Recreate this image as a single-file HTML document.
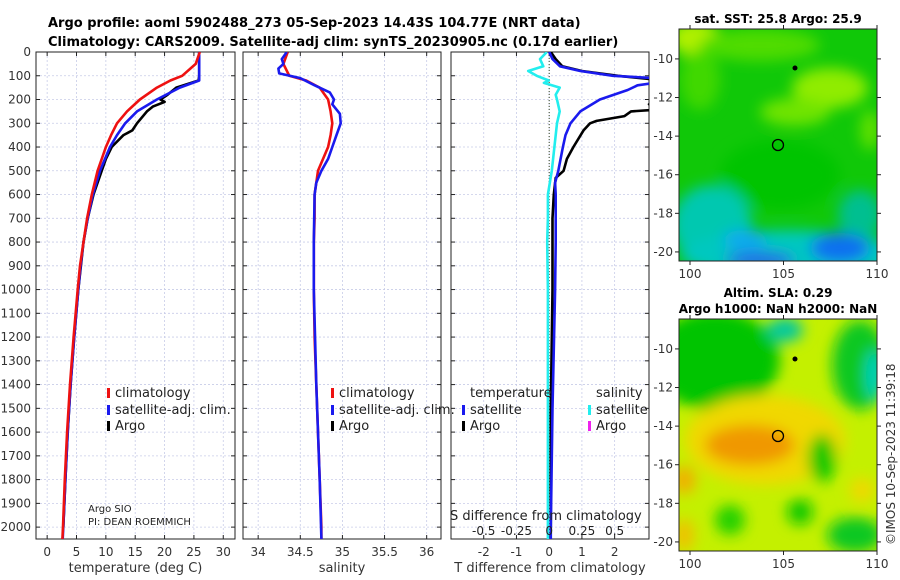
<!DOCTYPE html>
<html><head><meta charset="utf-8"><style>
body{margin:0;background:#fff;}
svg{display:block;font-family:"DejaVu Sans","Liberation Sans",sans-serif;}
</style></head><body>
<svg id="c" width="900" height="580" viewBox="0 0 900 580">
<defs>
<clipPath id="cp1"><rect x="36" y="52" width="199" height="487"/></clipPath>
<clipPath id="cp2"><rect x="243" y="52" width="198" height="487"/></clipPath>
<clipPath id="cp3"><rect x="451" y="52" width="198" height="487"/></clipPath>
<clipPath id="cm1"><rect x="679" y="29" width="198" height="232"/></clipPath>
<clipPath id="cm2"><rect x="679" y="319" width="198" height="232"/></clipPath>
<filter id="bl" x="-50%" y="-50%" width="200%" height="200%"><feGaussianBlur stdDeviation="7"/></filter>
</defs>
<text x="48" y="27" font-size="13" font-weight="bold">Argo profile: aoml 5902488_273 05-Sep-2023 14.43S 104.77E (NRT data)</text>
<text x="48" y="46" font-size="13" font-weight="bold">Climatology: CARS2009. Satellite-adj clim: synTS_20230905.nc (0.17d earlier)</text>
<g id="p1"></g>
<g id="p2"></g>
<g id="p3"></g>

<g>
<text x="778" y="23" font-size="12" font-weight="bold" text-anchor="middle">sat. SST: 25.8 Argo: 25.9</text>
<g clip-path="url(#cm1)">
<rect x="679" y="29" width="198" height="232" fill="#10c808"/>
<g filter="url(#bl)">
<ellipse cx="695" cy="38" rx="25" ry="18" fill="#b0f000"/>
<ellipse cx="760" cy="45" rx="60" ry="16" fill="#50dc00"/>
<ellipse cx="700" cy="80" rx="20" ry="30" fill="#40d800"/>
<ellipse cx="830" cy="88" rx="38" ry="20" fill="#90ec00"/>
<ellipse cx="795" cy="112" rx="35" ry="14" fill="#70e400"/>
<ellipse cx="870" cy="130" rx="10" ry="20" fill="#60e000"/>
<ellipse cx="780" cy="175" rx="60" ry="35" fill="#00c400"/>
<ellipse cx="712" cy="225" rx="40" ry="40" fill="#00c8b0"/>
<ellipse cx="790" cy="255" rx="110" ry="25" fill="#00c8c0"/>
<ellipse cx="860" cy="215" rx="22" ry="25" fill="#00bf90"/>
<ellipse cx="840" cy="248" rx="30" ry="15" fill="#1070f0"/>
<ellipse cx="760" cy="260" rx="35" ry="8" fill="#2060e8"/>
<ellipse cx="745" cy="240" rx="22" ry="10" fill="#10a8f0"/>
</g></g>
<rect x="679" y="29" width="198" height="232" fill="none" stroke="#222"/>
<circle cx="778" cy="145" r="5.5" fill="none" stroke="#000" stroke-width="1.3"/>
<circle cx="795" cy="68" r="2.5" fill="#000"/>
</g>

<g>
<text x="778" y="297" font-size="12" font-weight="bold" text-anchor="middle">Altim. SLA: 0.29</text>
<text x="778" y="313" font-size="12" font-weight="bold" text-anchor="middle">Argo h1000: NaN h2000: NaN</text>
<g clip-path="url(#cm2)">
<rect x="679" y="319" width="198" height="232" fill="#c4f000"/>
<g filter="url(#bl)">
<ellipse cx="715" cy="360" rx="65" ry="50" fill="#00c400"/>
<ellipse cx="860" cy="365" rx="28" ry="45" fill="#10c820"/>
<ellipse cx="874" cy="375" rx="8" ry="25" fill="#00d0c0"/>
<ellipse cx="785" cy="330" rx="18" ry="12" fill="#00c8a0"/>
<ellipse cx="765" cy="440" rx="80" ry="45" fill="#f0d800"/>
<ellipse cx="750" cy="445" rx="45" ry="20" fill="#f09800"/>
<ellipse cx="822" cy="458" rx="14" ry="24" fill="#10c800"/>
<ellipse cx="800" cy="512" rx="13" ry="13" fill="#10c800"/>
<ellipse cx="730" cy="520" rx="15" ry="15" fill="#20d000"/>
<ellipse cx="855" cy="535" rx="28" ry="18" fill="#10c820"/>
<ellipse cx="684" cy="480" rx="12" ry="14" fill="#f0b000"/>
<ellipse cx="684" cy="535" rx="10" ry="16" fill="#f0c000"/>
<ellipse cx="862" cy="490" rx="12" ry="12" fill="#f0d800"/>
</g></g>
<rect x="679" y="319" width="198" height="232" fill="none" stroke="#222"/>
<circle cx="778" cy="436" r="5.5" fill="none" stroke="#000" stroke-width="1.3"/>
<circle cx="795" cy="359" r="2.5" fill="#000"/>
<text transform="translate(895,545) rotate(-90)" font-size="12" fill="#333">©IMOS 10-Sep-2023 11:39:18</text>
</g>
<g id="maxes"></g>
</svg>
<script>
const depths=[0,50,100,120,150,200,250,300,350,400,500,600,700,800,900,1000,1200,1400,1600,1800,2000,2050];
const tempClim=[26,25.3,23,21,18.7,15.8,13.6,11.9,10.9,10,8.6,7.6,6.8,6.2,5.6,5.2,4.5,3.9,3.4,3.0,2.7,2.6];
const tempSat=[25.9,25.9,25.9,25.9,22.6,18.7,15.3,13.3,11.9,10.7,9,7.8,6.9,6.2,5.7,5.3,4.6,4.0,3.5,3.1,2.75,2.65];
const argoDepths=[0,50,100,120,150,180,200,210,230,250,300,330,350,400,450,500,600,700,800,1000,1200,1400,1600,1800,2000];
const tempArgo=[25.9,25.9,25.9,25.8,22,20.5,19.3,20,18,17,15.3,14.5,13,11,10,9.3,7.9,6.9,6.2,5.3,4.6,4.0,3.5,3.1,2.75];
const salClim=[34.35,34.3,34.37,34.57,34.73,34.83,34.86,34.88,34.86,34.83,34.71,34.67,34.67,34.66,34.66,34.66,34.67,34.69,34.71,34.73,34.75,34.75];
const salDepths=[0,30,50,70,90,110,140,170,200,220,260,300,350,400,450,500,550,600,800,1000,1400,1800,2050];
const salSat=[34.34,34.28,34.3,34.24,34.25,34.5,34.67,34.85,34.9,34.88,34.97,34.98,34.93,34.88,34.83,34.75,34.69,34.67,34.66,34.66,34.69,34.73,34.75];
const dsDepths=[0,30,60,80,100,120,130,150,180,200,250,300,400,500,600,700,800,1000,1500,2000,2050];
const salDiffSat=[-0.018,-0.07,-0.045,-0.16,-0.095,-0.003,-0.04,0.08,0.05,0.06,0.08,0.06,0.04,0.02,-0.01,-0.01,-0.015,-0.01,-0.01,-0.01,-0.01];
const dtDepths=[0,30,60,80,100,110,125,140,160,200,250,300,350,400,500,550,600,800,1000,1500,2000,2050];
const tDiffSat=[0,0.1,0.33,0.95,1.95,3.2,3.5,2.7,2.4,1.55,0.95,0.65,0.5,0.42,0.28,0.18,0.2,0.2,0.18,0.1,0.05,0.05];
const dtArgoDepths=[0,30,60,80,100,120,150,180,190,220,240,250,270,290,300,330,400,450,500,530,600,700,800,1000,1500,2000];
const tDiffArgo=[0.05,0.2,0.4,1.0,2.1,3.5,3.6,3.2,3.6,3.05,3.6,2.5,2.3,1.45,1.25,1.05,0.74,0.54,0.44,0.2,0.14,0.1,0.1,0.1,0.05,0.05];
const depthTicks=[0,100,200,300,400,500,600,700,800,900,1000,1100,1200,1300,1400,1500,1600,1700,1800,1900,2000];
const tTicks=[0,5,10,15,20,25,30];
const sTicks=[34,34.5,35,35.5,36];
const dTicks=[-2,-1,0,1,2];
const dsTicks=[-0.5,-0.25,0,0.25,0.5];
const latTicks=[-10,-12,-14,-16,-18,-20];
const lonTicks=[100,105,110];

const NS='http://www.w3.org/2000/svg';
const Y0=52,Y1=539;
function y(d){return Y0+(d/2050)*(Y1-Y0);}
function mk(tag,attrs,parent,txt){const e=document.createElementNS(NS,tag);for(const k in attrs)e.setAttribute(k,attrs[k]);if(txt!==undefined)e.textContent=txt;parent.appendChild(e);return e;}
function panel(g,x0,x1,xmin,xmax,ticks,clip,labelDepth,xlabel){
  const xs=v=>x0+(v-xmin)/(xmax-xmin)*(x1-x0);
  depthTicks.forEach(d=>{mk('line',{x1:x0,x2:x1,y1:y(d),y2:y(d),stroke:'#c8cce8','stroke-dasharray':'2,2','stroke-width':0.8},g);
    mk('line',{x1:x0,x2:x0+4,y1:y(d),y2:y(d),stroke:'#222'},g);mk('line',{x1:x1-4,x2:x1,y1:y(d),y2:y(d),stroke:'#222'},g);
    if(labelDepth){const t=mk('text',{x:x0-5,y:y(d)+4,'font-size':12,'text-anchor':'end',fill:'#333'},g,String(d));
      
      }});
  ticks.forEach(v=>{mk('line',{x1:xs(v),x2:xs(v),y1:Y0,y2:Y1,stroke:'#c8cce8','stroke-dasharray':'2,2','stroke-width':0.8},g);
    mk('line',{x1:xs(v),x2:xs(v),y1:Y1-4,y2:Y1,stroke:'#222'},g);mk('line',{x1:xs(v),x2:xs(v),y1:Y0,y2:Y0+4,stroke:'#222'},g);
    const t=mk('text',{x:xs(v),y:Y1+17,'font-size':12,'text-anchor':'middle',fill:'#333'},g,String(v));
    
    });
  mk('rect',{x:x0,y:Y0,width:x1-x0,height:Y1-Y0,fill:'none',stroke:'#222'},g);
  const xl=mk('text',{x:(x0+x1)/2,y:572,'font-size':13,'text-anchor':'middle',fill:'#333'},g,xlabel);
  
  
  return xs;
}
function line(g,xs,vals,ds,color,clip,name){
  const pts=vals.map((v,i)=>xs(v).toFixed(1)+','+y(ds[i]).toFixed(1)).join(' ');
  const p=mk('polyline',{points:pts,fill:'none',stroke:color,'stroke-width':2.6,'stroke-linejoin':'round','clip-path':'url(#'+clip+')'},g);
  
  
}
function legend(g,x,yy,color,label,name){
  mk('rect',{x:x,y:yy-9,width:3,height:10,fill:color},g);
  const t=mk('text',{x:x+8,y:yy,'font-size':13,fill:'#222'},g,label);
  
  
}
const g1=document.getElementById('p1');
const x1s=panel(g1,36,235,-1.9,32,tTicks,'cp1',true,'temperature (deg C)');
line(g1,x1s,tempArgo,argoDepths,'#000','cp1','argo-temperature-line');
line(g1,x1s,tempSat,depths,'#1a1aee','cp1','satellite-temperature-line');
line(g1,x1s,tempClim,depths,'#ee1111','cp1','climatology-temperature-line');
legend(g1,107,397,'#ee1111','climatology','legend-climatology');
legend(g1,107,414,'#1a1aee','satellite-adj. clim.','legend-satellite');
legend(g1,107,430,'#000','Argo','legend-argo');
mk('text',{x:88,y:512,'font-size':10,fill:'#222'},g1,'Argo SIO');
mk('text',{x:88,y:525,'font-size':10,fill:'#222'},g1,'PI: DEAN ROEMMICH');

const g2=document.getElementById('p2');
const x2s=panel(g2,243,441,33.82,36.17,sTicks,'cp2',false,'salinity');
line(g2,x2s,salClim,depths,'#ee1111','cp2','climatology-salinity-line');
line(g2,x2s,salSat,salDepths,'#1a1aee','cp2','satellite-salinity-line');
legend(g2,331,397,'#ee1111','climatology','legend-climatology-s');
legend(g2,331,414,'#1a1aee','satellite-adj. clim.','legend-satellite-s');
legend(g2,331,430,'#000','Argo','legend-argo-s');

const g3=document.getElementById('p3');
const x3s=panel(g3,451,649,-3.0,3.05,dTicks,'cp3',false,'T difference from climatology');
mk('line',{x1:x3s(0),x2:x3s(0),y1:Y0,y2:Y1,stroke:'#334422','stroke-dasharray':'1,2','stroke-width':1},g3);
const x3ss=v=>x3s(v*4);
line(g3,x3ss,salDiffSat,dsDepths,'#22eeee','cp3','salinity-diff-satellite-line');
line(g3,x3s,tDiffArgo,dtArgoDepths,'#000','cp3','temperature-diff-argo-line');
line(g3,x3s,tDiffSat,dtDepths,'#1a1aee','cp3','temperature-diff-satellite-line');
mk('text',{x:470,y:397,'font-size':13,fill:'#222'},g3,'temperature');
mk('text',{x:596,y:397,'font-size':13,fill:'#222'},g3,'salinity');
legend(g3,462,414,'#1a1aee','satellite','legend-t-satellite');
legend(g3,462,430,'#000','Argo','legend-t-argo');
legend(g3,588,414,'#22eeee','satellite','legend-s-satellite');
legend(g3,588,430,'#ee22ee','Argo','legend-s-argo');
mk('text',{x:450,y:520,'font-size':13,fill:'#222'},g3,'S difference from climatology');
dsTicks.forEach(v=>{const t=mk('text',{x:x3ss(v),y:535,'font-size':12,'text-anchor':'middle',fill:'#222'},g3,String(v));
  
  });

const ga=document.getElementById('maxes');
function mapAxes(top,bottom,latTop){
  const ly=lat=>top+(latTop-lat)*(bottom-top)/12.02;
  latTicks.forEach(l=>{const yy=ly(l);
    mk('line',{x1:679,x2:675,y1:yy,y2:yy,stroke:'#222'},ga);mk('line',{x1:877,x2:881,y1:yy,y2:yy,stroke:'#222'},ga);
    const t=mk('text',{x:673,y:yy+4,'font-size':12,'text-anchor':'end',fill:'#333'},ga,String(l));
    
    });
  lonTicks.forEach(l=>{const xx=690+(l-100)*18.7;
    mk('line',{x1:xx,x2:xx,y1:bottom,y2:bottom+4,stroke:'#222'},ga);mk('line',{x1:xx,x2:xx,y1:top,y2:top-4,stroke:'#222'},ga);
    const t=mk('text',{x:xx,y:bottom+17,'font-size':12,'text-anchor':'middle',fill:'#333'},ga,String(l));
    
    });
}
mapAxes(29,261,-8.45);
mapAxes(319,551,-8.45);
</script>
</body></html>
